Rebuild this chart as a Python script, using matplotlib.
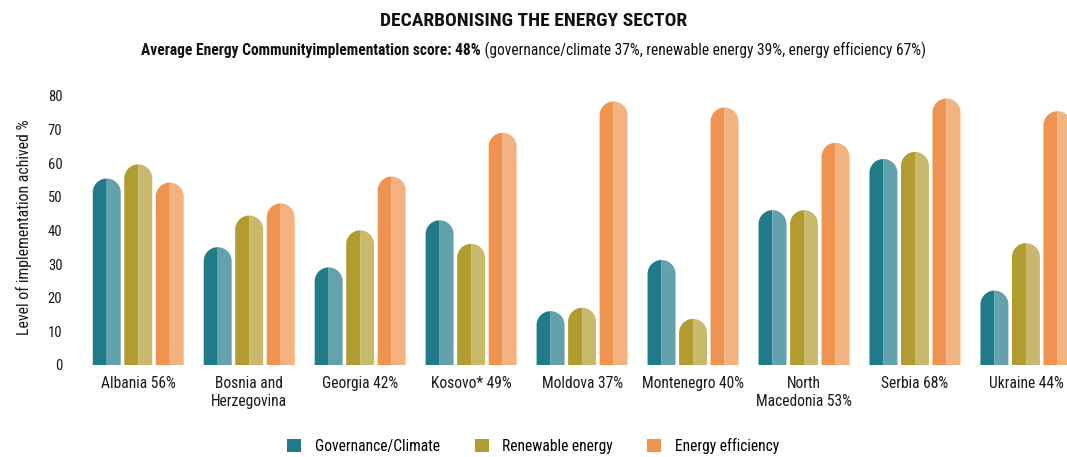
import matplotlib.pyplot as plt
import numpy as np
from matplotlib.patches import Polygon, Patch

# data
countries = ["Albania 56%", "Bosnia and\nHerzegovina", "Georgia 42%", "Kosovo* 49%",
             "Moldova 37%", "Montenegro 40%", "North\nMacedonia 53%", "Serbia 68%",
             "Ukraine 44%"]
governance = [55.4, 35, 29, 43, 16, 31.2, 46, 61.2, 22.1]
renewable = [59.6, 44.4, 40, 36, 17, 13.7, 46, 63.3, 36.2]
efficiency = [54.2, 48, 56, 69, 78.3, 76.5, 66, 79.2, 75.4]
series_names = ["Governance/Climate", "Renewable energy", "Energy efficiency"]

dark = ["#217a89", "#b19c30", "#ef9350"]
light = ["#63a1ac", "#c9b96d", "#f3b381"]

plt.rcParams['font.family'] = ['Roboto Condensed', 'Roboto', 'DejaVu Sans']

fig = plt.figure(figsize=(10.67, 4.57), dpi=100)
ax = fig.add_axes([75/1067, 92/457, 1 - 75/1067, 276/457])
ax.set_xlim(-0.57, 8.37)
ax.set_ylim(0, 82)

# pixel scale -> radius of rounded tops in data units
W, H = fig.get_size_inches() * fig.dpi
ax_w = ax.get_position().width * W
ax_h = ax.get_position().height * H
px_x = ax_w / (8.37 + 0.57)
px_y = ax_h / 82.0

bw = 0.252
off = 0.284
rx = bw / 2
ry = rx * px_x / px_y


def half_bar(xc, val, side, color):
    # side -1 = left half, +1 = right half
    top = val - ry
    t = np.linspace(0, np.pi / 2, 30)
    if side < 0:
        arc = [(xc - rx * np.cos(a), top + ry * np.sin(a)) for a in t]
        pts = [(xc, 0), (xc - rx, 0)] + arc + [(xc, val)]
    else:
        arc = [(xc + rx * np.cos(a), top + ry * np.sin(a)) for a in t]
        pts = [(xc, 0), (xc + rx, 0)] + arc + [(xc, val)]
    ax.add_patch(Polygon(pts, closed=True, facecolor=color, edgecolor='none'))


for k, vals in enumerate([governance, renewable, efficiency]):
    for i, v in enumerate(vals):
        xc = i + (k - 1) * off
        half_bar(xc, v, -1, dark[k])
        half_bar(xc, v, 1, light[k])

for s in ax.spines.values():
    s.set_visible(False)
ax.set_yticks(np.arange(0, 81, 10))
ax.tick_params(axis='y', length=0, labelsize=10.5, pad=9, colors='#1a1a1a')
ax.set_xticks(range(len(countries)))
ax.set_xticklabels(countries, fontsize=11.2, color='#1a1a1a', va='top')
ax.tick_params(axis='x', length=0, pad=8)
ax.set_ylabel("Level of implementation achived %", fontsize=11.4, color='#1a1a1a')
ax.yaxis.set_label_coords(-0.043, 0.5)

fig.text(0.5, 1 - 21/457, "DECARBONISING THE ENERGY SECTOR", ha='center', va='center',
         fontsize=14, fontweight='bold', color='#111111')

bold_part = "Average Energy Communityimplementation score: 48%"
norm_part = " (governance/climate 37%, renewable energy 39%, energy efficiency 67%)"
t1 = fig.text(0.5, 1 - 50/457, bold_part, ha='left', va='center', fontsize=11.2,
              fontweight='bold', color='#111111')
t2 = fig.text(0.5, 1 - 50/457, norm_part, ha='left', va='center', fontsize=11.2,
              color='#111111')
r = fig.canvas.get_renderer()
w1 = t1.get_window_extent(r).width
w2 = t2.get_window_extent(r).width
x0 = (W - (w1 + w2)) / 2
t1.set_x(x0 / W)
t2.set_x((x0 + w1) / W)

handles = [Patch(facecolor=dark[k], edgecolor='none') for k in range(3)]
fig.legend(handles, series_names, loc='lower center', bbox_to_anchor=(0.5, -0.024), ncol=3,
           frameon=False, fontsize=11.2, handlelength=0.9, handleheight=0.9,
           handletextpad=0.9, columnspacing=2.2)

fig.savefig("out.png", dpi=100)
